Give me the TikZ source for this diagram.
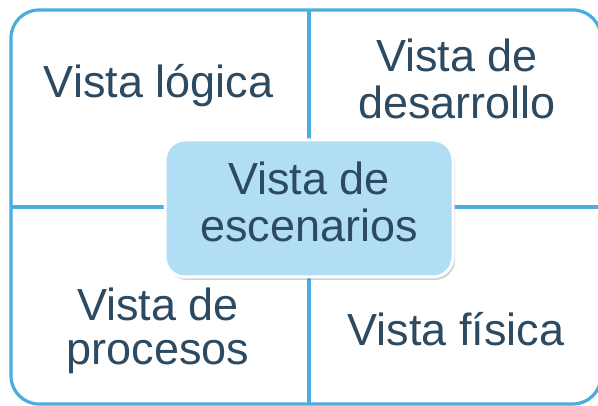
\documentclass[tikz,border=0pt]{standalone}
\usepackage{fontspec}
\setmainfont{Liberation Sans}
\usetikzlibrary{shadows}

\definecolor{vline}{HTML}{49ADDD}
\definecolor{vfill}{HTML}{B2DEF5}
\definecolor{vtext}{HTML}{2C4A62}

\tikzset{
  vista/.style={inner sep=0pt, align=center, text=vtext, font=\fontsize{45}{44}\selectfont},
  frame/.style={vline, line width=3.2pt},
  centerbox/.style={vista, rounded corners=20pt, fill=vfill, draw=white, line width=3pt,
    minimum width=288pt, minimum height=137pt,
    drop shadow={shadow xshift=2pt, shadow yshift=-3pt, opacity=0.3, fill=black!60}}
}

\begin{document}
\begin{tikzpicture}[x=1pt,y=1pt]
\useasboundingbox (0,0) rectangle (598,406);

\coordinate (nw) at (11,396);
\coordinate (se) at (601,2);
\coordinate (top) at (309,396);
\coordinate (bottom) at (309,2);
\coordinate (left) at (11,199);
\coordinate (right) at (601,199);

\draw [frame] (top) -- (bottom);
\draw [frame] (left) -- (right);
\draw [frame, rounded corners=28pt] (nw) rectangle (se);

\node [vista] (logica) at (158.5,318) {\strut Vista lógica};
\node [vista] (desarrollo) at (457,320.5) {\strut Vista de\\\strut desarrollo};
\node [vista] (procesos) at (158,73.5) {\strut Vista de\\\strut procesos};
\node [vista] (fisica) at (456,70) {\strut Vista física};

\node [centerbox] (escenarios) at (309,197.5) {\strut Vista de\\\strut escenarios};
\end{tikzpicture}
\end{document}
